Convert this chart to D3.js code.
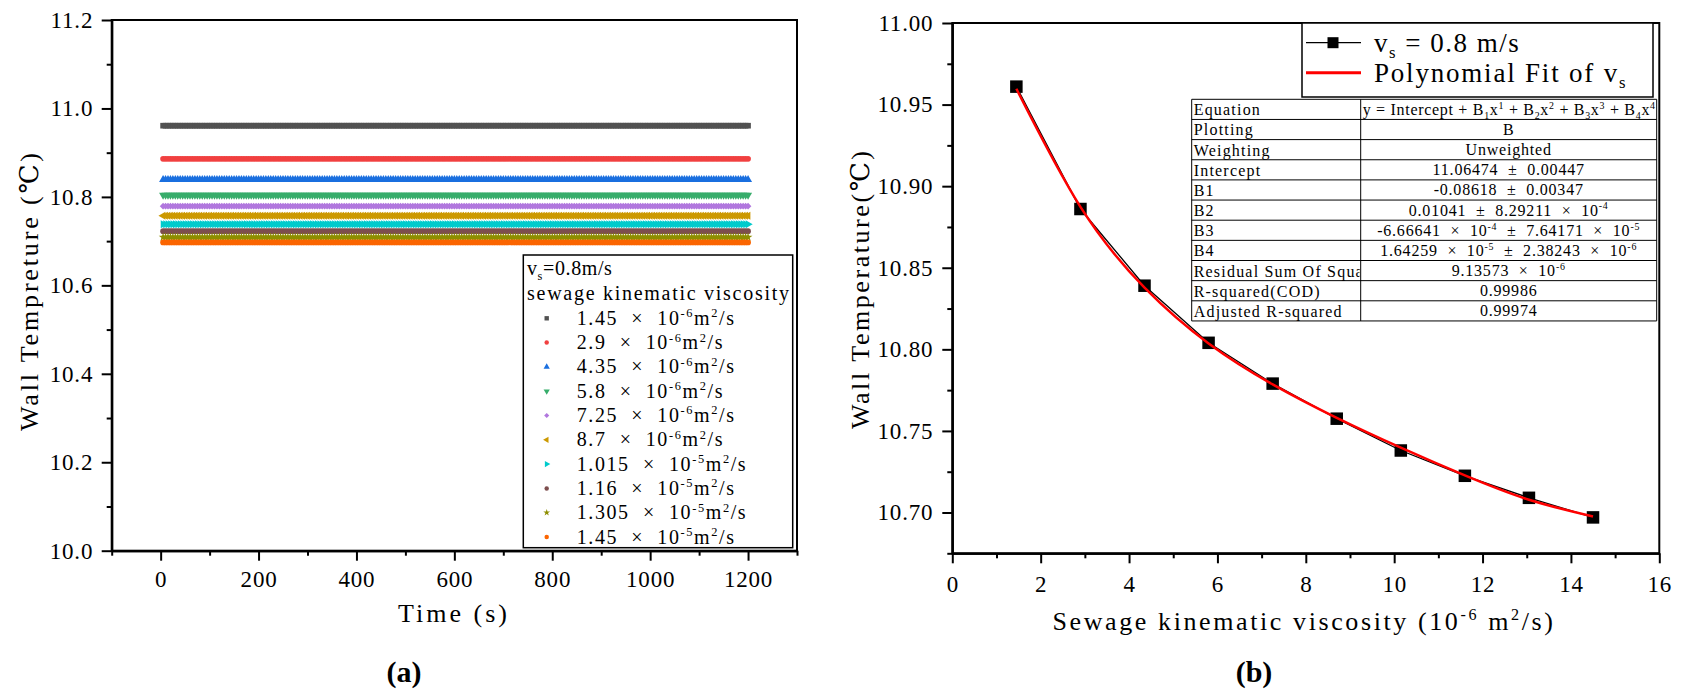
<!DOCTYPE html>
<html><head><meta charset="utf-8">
<script src="https://cdn.jsdelivr.net/npm/d3@7"></script>
<style>
body{margin:0;background:#fff;}
svg{display:block;}
text{font-family:'Liberation Serif','DejaVu Serif',serif;white-space:pre;fill:#000;}
</style>
</head><body>
<svg id="c" width="1688" height="695"></svg>
<script>
// ---------------- data ----------------
const viscosityMantissa = ["1.45","2.9","4.35","5.8","7.25","8.7","1.015","1.16","1.305","1.45"];
const viscosityExponent = ["-6","-6","-6","-6","-6","-6","-5","-5","-5","-5"];
const viscosityX = [1.45, 2.9, 4.35, 5.8, 7.25, 8.7, 10.15, 11.6, 13.05, 14.5];
const wallTemp = [10.961, 10.886, 10.839, 10.804, 10.779, 10.7575, 10.738, 10.7225, 10.709, 10.697];
const fitTemp  = [10.9597, 10.8873, 10.8378, 10.8036, 10.7785, 10.7580, 10.7397, 10.7227, 10.7078, 10.6976];
const timeStart = 5, timeEnd = 1200, timeStep = 5;
const seriesColors = ["#515151","#F14040","#1A6FDF","#37AD6B","#B177DE","#CC9900","#00CBCC","#7D4E4E","#8E8E00","#FB6501"];
const leftXTicks = [0,200,400,600,800,1000,1200];
const leftXMinor = [-100,100,300,500,700,900,1100,1300];
const leftYTicks = [10.0,10.2,10.4,10.6,10.8,11.0,11.2];
const leftYMinor = [10.1,10.3,10.5,10.7,10.9,11.1];
const rightXTicks = [0,2,4,6,8,10,12,14,16];
const rightXMinor = [1,3,5,7,9,11,13,15];
const rightYTicks = [10.70,10.75,10.80,10.85,10.90,10.95,11.00];
const rightYMinor = [10.675,10.725,10.775,10.825,10.875,10.925,10.975];
const tableLabels = ["Equation","Plotting","Weighting","Intercept","B1","B2","B3","B4","Residual Sum Of Squares","R-squared(COD)","Adjusted R-squared"];
const tableValues = [
  ["y = Intercept + B",{sub:"1"},"x",{sup:"1"}," + B",{sub:"2"},"x",{sup:"2"}," + B",{sub:"3"},"x",{sup:"3"}," + B",{sub:"4"},"x",{sup:"4"}],
  ["B"],
  ["Unweighted"],
  ["11.06474  ±  0.00447"],
  ["-0.08618  ±  0.00347"],
  ["0.01041  ±  8.29211  ×  10",{sup:"-4"}],
  ["-6.66641  ×  10",{sup:"-4"},"  ±  7.64171  ×  10",{sup:"-5"}],
  ["1.64259  ×  10",{sup:"-5"},"  ±  2.38243  ×  10",{sup:"-6"}],
  ["9.13573  ×  10",{sup:"-6"}],
  ["0.99986"],
  ["0.99974"]
];

// ---------------- helpers ----------------
const svg = d3.select('#c');
function rich(t, parts, size){
  let shift = 0;
  parts.forEach(p=>{
    const isObj = typeof p === 'object';
    const target = isObj ? (p.sup !== undefined ? -0.38*size : 0.25*size) : 0;
    const str = isObj ? (p.sup !== undefined ? p.sup : p.sub) : p;
    t.append('tspan').attr('dy', target - shift).attr('font-size', isObj ? size*0.62 : size).text(str);
    shift = target;
  });
  return t;
}
const symTypes = [d3.symbolSquare,d3.symbolCircle,d3.symbolTriangle,d3.symbolTriangle,d3.symbolSquare,d3.symbolTriangle,d3.symbolTriangle,d3.symbolCircle,d3.symbolStar,d3.symbolCircle];
const symRot = [0,0,0,180,45,-90,90,0,0,0];
const symArea = [32,26,28,28,22,28,28,26,24,26];

function styleAxis(g, fs){
  g.attr('font-family',null);
  g.selectAll('path.domain').attr('stroke','#000').attr('stroke-width',2);
  g.selectAll('.tick line').attr('stroke','#000').attr('stroke-width',2);
  g.selectAll('.tick text').attr('font-family',"'Liberation Serif','DejaVu Serif',serif").attr('font-size',fs).attr('fill','#000').attr('letter-spacing',0.8);
}

// ---------------- left panel ----------------
const L = {x0:111.7, x1:797, y0:20, y1:550.7};
const xL = d3.scaleLinear().domain([-100,1300]).range([L.x0,L.x1]);
const yL = d3.scaleLinear().domain([10.0,11.2]).range([L.y1,L.y0]);
const times = d3.range(timeStart, timeEnd + 1, timeStep);

const gL = svg.append('g');
wallTemp.forEach((v,i)=>{
  const path = d3.symbol().type(symTypes[i]).size(symArea[i])();
  gL.append('g').selectAll('path').data(times).join('path')
    .attr('d', path)
    .attr('transform', t=>`translate(${xL(t)},${yL(v)}) rotate(${symRot[i]})`)
    .attr('fill', seriesColors[i]);
});

// axes
let ax = svg.append('g').attr('transform',`translate(0,${L.y1})`)
  .call(d3.axisBottom(xL).tickValues(leftXMinor).tickSize(5).tickSizeOuter(0).tickFormat(''));
styleAxis(ax,22);
ax = svg.append('g').attr('transform',`translate(0,${L.y1})`)
  .call(d3.axisBottom(xL).tickValues(leftXTicks).tickSize(10).tickSizeOuter(0).tickFormat(d3.format('d')));
styleAxis(ax,23);
ax.selectAll('.tick text').attr('y',36.5).attr('dy',0);
ax = svg.append('g').attr('transform',`translate(${L.x0},0)`)
  .call(d3.axisLeft(yL).tickValues(leftYMinor).tickSize(5).tickSizeOuter(0).tickFormat(''));
styleAxis(ax,22);
ax = svg.append('g').attr('transform',`translate(${L.x0},0)`)
  .call(d3.axisLeft(yL).tickValues(leftYTicks).tickSize(10).tickSizeOuter(0).tickFormat(d3.format('.1f')));
styleAxis(ax,23);
ax.selectAll('.tick text').attr('x',-18.5);
svg.append('rect').attr('x',L.x0).attr('y',L.y0).attr('width',L.x1-L.x0).attr('height',L.y1-L.y0)
  .attr('fill','none').attr('stroke','#000').attr('stroke-width',2);

// legend (left)
const lg = svg.append('g');
lg.append('rect').attr('x',523.3).attr('y',255).attr('width',269.4).attr('height',292.7)
  .attr('fill','#fff').attr('stroke','#000').attr('stroke-width',1.5);
rich(lg.append('text').attr('x',527).attr('y',275).attr('font-size',20).attr('letter-spacing',0.6), ["v",{sub:"s"},"=0.8m/s"], 20);
lg.append('text').attr('x',527).attr('y',300).attr('font-size',20).attr('textLength',262).attr('lengthAdjust','spacing').text('sewage kinematic viscosity');
viscosityMantissa.forEach((m,i)=>{
  const cy = 318.3 + i*24.3;
  lg.append('path').attr('d', d3.symbol().type(symTypes[i]).size(symArea[i]*0.6)())
    .attr('transform',`translate(546.7,${cy}) rotate(${symRot[i]})`).attr('fill',seriesColors[i]);
  const t = lg.append('text').attr('x',576.7).attr('y',cy+6.5).attr('font-size',20).attr('letter-spacing',1.6);
  rich(t,[m+"  ×  10",{sup:viscosityExponent[i]},"m",{sup:"2"},"/s"],20);
});

// titles left
svg.append('text').attr('x',452.5).attr('y',622).attr('text-anchor','middle').attr('font-size',26)
  .attr('textLength',109).attr('lengthAdjust','spacing').text('Time (s)');
svg.append('text').attr('transform','translate(38,292) rotate(-90)').attr('text-anchor','middle').attr('font-size',26)
  .attr('textLength',278).attr('lengthAdjust','spacing').text('Wall Tempreture (℃)');
svg.append('text').attr('x',404).attr('y',682).attr('text-anchor','middle').attr('font-size',30).attr('font-weight','bold').text('(a)');

// ---------------- right panel ----------------
const R = {x0:952.3, x1:1659.3, y0:23, y1:553.3};
const xR = d3.scaleLinear().domain([0,16]).range([R.x0,R.x1]);
const yR = d3.scaleLinear().domain([10.675,11.0]).range([R.y1,R.y0]);

ax = svg.append('g').attr('transform',`translate(0,${R.y1})`)
  .call(d3.axisBottom(xR).tickValues(rightXMinor).tickSize(5).tickSizeOuter(0).tickFormat(''));
styleAxis(ax,22);
ax = svg.append('g').attr('transform',`translate(0,${R.y1})`)
  .call(d3.axisBottom(xR).tickValues(rightXTicks).tickSize(10).tickSizeOuter(0).tickFormat(d3.format('d')));
styleAxis(ax,23);
ax.selectAll('.tick text').attr('y',38.7).attr('dy',0);
ax = svg.append('g').attr('transform',`translate(${R.x0},0)`)
  .call(d3.axisLeft(yR).tickValues(rightYMinor).tickSize(5).tickSizeOuter(0).tickFormat(''));
styleAxis(ax,22);
ax = svg.append('g').attr('transform',`translate(${R.x0},0)`)
  .call(d3.axisLeft(yR).tickValues(rightYTicks).tickSize(10).tickSizeOuter(0).tickFormat(d3.format('.2f')));
styleAxis(ax,23);
ax.selectAll('.tick text').attr('x',-19);
svg.append('rect').attr('x',R.x0).attr('y',R.y0).attr('width',R.x1-R.x0).attr('height',R.y1-R.y0)
  .attr('fill','none').attr('stroke','#000').attr('stroke-width',2);

const pts = viscosityX.map((x,i)=>({x, y:wallTemp[i], f:fitTemp[i]}));
svg.append('path').datum(pts).attr('fill','none').attr('stroke','#000').attr('stroke-width',1.3)
  .attr('d', d3.line().x(d=>xR(d.x)).y(d=>yR(d.y)));
svg.append('g').selectAll('rect').data(pts).join('rect')
  .attr('x',d=>xR(d.x)-6.25).attr('y',d=>yR(d.y)-6.25).attr('width',12.5).attr('height',12.5).attr('fill','#000');
svg.append('path').datum(pts).attr('fill','none').attr('stroke','#ff0000').attr('stroke-width',2.5)
  .attr('d', d3.line().curve(d3.curveNatural).x(d=>xR(d.x)).y(d=>yR(d.f)));

// legend (right)
const rg = svg.append('g');
rg.append('rect').attr('x',1302).attr('y',23).attr('width',351).attr('height',74)
  .attr('fill','#fff').attr('stroke','#000').attr('stroke-width',1.5);
rg.append('line').attr('x1',1306).attr('x2',1361).attr('y1',42.7).attr('y2',42.7).attr('stroke','#000').attr('stroke-width',1.3);
rg.append('rect').attr('x',1333-5.5).attr('y',42.7-5.5).attr('width',11).attr('height',11).attr('fill','#000');
rg.append('line').attr('x1',1306).attr('x2',1361).attr('y1',72.7).attr('y2',72.7).attr('stroke','#ff0000').attr('stroke-width',3);
rich(rg.append('text').attr('x',1374).attr('y',51.7).attr('font-size',27).attr('letter-spacing',1.5), ["v",{sub:"s"}," = 0.8 m/s"], 27);
rich(rg.append('text').attr('x',1374).attr('y',81.7).attr('font-size',27).attr('letter-spacing',1.8), ["Polynomial Fit of v",{sub:"s"}], 27);

// table
const T = {x0:1191.7, xm:1360.7, x1:1656.7, y0:99.3, rh:20.15};
const tg = svg.append('g');
const defs = svg.append('defs');
defs.append('clipPath').attr('id','c1').append('rect').attr('x',T.x0).attr('y',T.y0).attr('width',T.xm-T.x0-1).attr('height',T.rh*11);
defs.append('clipPath').attr('id','c2').append('rect').attr('x',T.xm).attr('y',T.y0).attr('width',T.x1-T.xm).attr('height',T.rh*11);
tg.append('rect').attr('x',T.x0).attr('y',T.y0).attr('width',T.x1-T.x0).attr('height',T.rh*11).attr('fill','#fff');
tableLabels.forEach((lab,i)=>{
  const y = T.y0 + i*T.rh;
  tg.append('text').attr('clip-path','url(#c1)').attr('x',T.x0+2).attr('y',y+16).attr('font-size',16).attr('letter-spacing',1.2).text(lab);
  const t = tg.append('text').attr('clip-path','url(#c2)').attr('y',y+15.5).attr('font-size',16).attr('letter-spacing',0.8);
  if(i===0){ t.attr('x',T.xm+2).attr('letter-spacing',0.7); } else { t.attr('x',(T.xm+T.x1)/2).attr('text-anchor','middle'); }
  rich(t, tableValues[i], 16);
});
for(let i=0;i<=11;i++){
  tg.append('line').attr('x1',T.x0).attr('x2',T.x1).attr('y1',T.y0+i*T.rh).attr('y2',T.y0+i*T.rh).attr('stroke','#000').attr('stroke-width',1);
}
[T.x0,T.xm,T.x1].forEach(x=>tg.append('line').attr('x1',x).attr('x2',x).attr('y1',T.y0).attr('y2',T.y0+11*T.rh).attr('stroke','#000').attr('stroke-width',1));

// titles right
rich(svg.append('text').attr('x',1304).attr('y',630).attr('text-anchor','middle').attr('font-size',26).attr('letter-spacing',2.6),
  ["Sewage kinematic viscosity (10",{sup:"-6"}," m",{sup:"2"},"/s)"], 26);
svg.append('text').attr('transform','translate(869,290) rotate(-90)').attr('text-anchor','middle').attr('font-size',26)
  .attr('textLength',278).attr('lengthAdjust','spacing').text('Wall Temperature(℃)');
svg.append('text').attr('x',1254).attr('y',682).attr('text-anchor','middle').attr('font-size',30).attr('font-weight','bold').text('(b)');
</script>
</body></html>
